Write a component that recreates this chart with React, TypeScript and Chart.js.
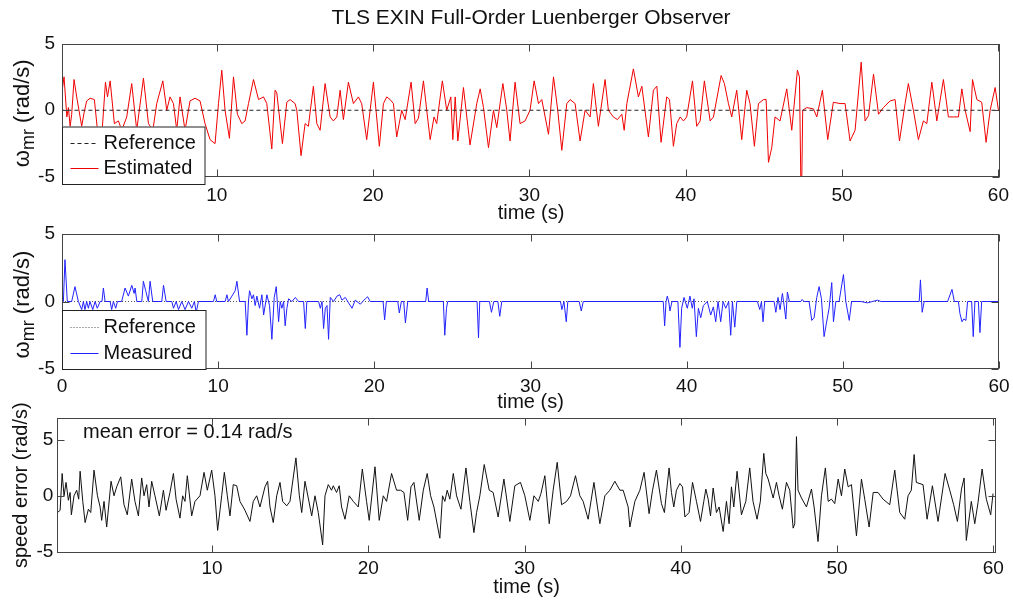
import React, { useEffect, useRef } from "react";
import { Chart, registerables } from "chart.js";

Chart.register(...registerables);

const FONT = "'Liberation Sans', Arial, Helvetica, sans-serif";
const INK = "#111111";
const FRAME = "#444444";
const RED = "#f00000";
const BLUE = "#2222ff";
const BLACK = "#111111";
const TICK = 7;

// ---- tick labels ----
const xTicksTop = [10, 20, 30, 40, 50, 60];
const xTicksMiddle = [0, 10, 20, 30, 40, 50, 60];
const xTicksBottom = [10, 20, 30, 40, 50, 60];
const yTicksOmega = [-5, 0, 5];
const yTicksError = [-5, 0, 5];

// ---- reference (zero speed) ----
const referenceTime = [0, 60.2];
const referenceValue = [0, 0];

// ---- estimated speed [time s, rad/s] ----
const estimated: [number, number][] = [
  [0.09,1.3],[0.23,2.5],[0.41,-0.5],[0.51,0.2],[0.62,-1.2],[0.72,-0.3],[0.87,2.3],[1.04,1.0],[1.36,-1.2],[1.51,-0.2],[1.68,0.7],[1.9,0.9],[2.17,0.8],[2.37,-1.5],[2.64,-2.0],[2.88,2.1],[3.01,1.0],[3.18,2.2],[3.45,-1.0],[3.71,-0.8],[3.92,-1.5],[4.24,-0.5],[4.56,2.0],[4.88,-1.5],[5.31,2.4],[5.63,-1.0],[5.91,-1.5],[6.16,0.5],[6.55,2.2],[6.8,0],[7.01,1.0],[7.23,0.5],[7.44,-1.5],[7.65,1.0],[7.97,-1.5],[8.29,0.7],[8.61,0.9],[8.93,0.7],[9.25,-1.0],[9.57,-2.2],[9.89,-2.5],[10.11,0.5],[10.32,3.0],[10.53,0],[10.81,-2.1],[11.07,2.5],[11.32,-0.3],[11.6,-1.0],[11.81,-0.8],[12.03,0.5],[12.35,2.3],[12.67,0.8],[12.99,1.0],[13.2,0.5],[13.52,-2.9],[13.73,1.5],[13.84,1.3],[14.2,-2.5],[14.48,0.6],[14.69,0.8],[15.01,0.5],[15.12,0],[15.39,-3.4],[15.65,-1.0],[15.86,-1.2],[16.18,1.8],[16.4,-1.0],[16.61,-1.5],[16.93,2.0],[17.25,-0.5],[17.46,-0.8],[17.68,-0.5],[17.89,1.5],[18.1,-0.7],[18.42,2.1],[18.74,0.5],[19.06,1.0],[19.27,0.5],[19.59,-2.2],[20.02,2.1],[20.4,-2.7],[20.66,0.5],[20.87,1.0],[21.09,0.8],[21.3,0.5],[21.51,-2.0],[21.83,0],[22.05,-0.7],[22.43,2.1],[22.69,-1.0],[22.9,-0.6],[23.22,2.2],[23.43,0],[23.65,-2.2],[23.9,-0.5],[24.07,-1.0],[24.43,2.2],[24.71,0],[24.97,1.0],[25.1,-2.2],[25.25,1.0],[25.42,-2.3],[25.78,1.7],[26.2,-2.6],[26.63,0.5],[26.85,1.6],[27.06,0.2],[27.38,-2.8],[27.7,0],[27.91,-1.3],[28.3,2.0],[28.55,0],[28.76,-2.3],[29.08,2.1],[29.4,-1.0],[29.72,-0.8],[30.04,0],[30.3,2.2],[30.58,0.5],[30.79,0.8],[31.22,-1.8],[31.54,2.5],[31.81,0],[32.07,-3.0],[32.39,0.5],[32.6,0.8],[32.92,0.5],[33.24,-2.3],[33.56,0],[33.88,-0.5],[34.09,2.0],[34.41,-1.2],[34.84,2.3],[35.05,0],[35.37,-0.5],[35.63,-0.7],[35.91,-0.3],[36.06,-1.5],[36.23,0.5],[36.65,3.1],[36.97,1.0],[37.19,1.8],[37.61,-2.0],[37.93,1.5],[38.15,1.8],[38.42,-2.4],[38.78,1.0],[38.96,0.8],[39.21,-2.7],[39.42,-1.0],[39.64,-0.5],[39.85,-0.8],[40.06,-0.5],[40.43,2.2],[40.7,-1.2],[40.92,-0.8],[41.19,2.2],[41.56,-0.8],[41.77,-0.5],[42.26,2.6],[42.47,2.0],[42.73,0.5],[42.94,-0.5],[43.26,1.5],[43.58,-2.2],[43.9,1.5],[44.11,0.5],[44.39,-2.7],[44.65,0.5],[44.97,0.8],[45.14,0.8],[45.29,-3.9],[45.5,-2.8],[45.71,-0.5],[46.03,-0.8],[46.46,1.6],[46.78,-1.5],[47.14,3.0],[47.27,2.5],[47.36,-5.3],[47.42,-5.3],[47.48,0],[47.74,0.2],[48.17,0.1],[48.38,-0.5],[48.74,1.5],[49.08,-2.2],[49.44,0.6],[49.87,0.5],[50.19,0.5],[50.51,-2.3],[50.83,-1.5],[51.22,3.6],[51.47,-0.8],[51.69,-0.4],[52.01,2.7],[52.33,-0.3],[52.64,0.2],[53.07,0.7],[53.39,0.8],[53.67,-2.3],[54.03,0.5],[54.24,2.0],[54.56,0],[54.88,-2.2],[55.2,-0.8],[55.42,-1.0],[55.74,2.1],[56.06,-0.8],[56.48,2.3],[56.8,-0.5],[57.12,-0.5],[57.44,-0.5],[57.66,1.6],[57.87,0],[58.19,-1.6],[58.34,2.3],[58.62,0.8],[58.93,0.6],[59.21,-2.4],[59.47,0],[59.79,1.7],[60.0,0]
];

// ---- measured speed [time s, rad/s] ----
const measured: [number, number][] = [
  [0,0],[0.09,0],[0.19,3.1],[0.34,0],[0.62,0],[0.83,1.1],[1.05,0],[1.26,-0.6],[1.37,0],[1.47,-0.6],[1.58,0],[1.69,-0.5],[1.79,0],[1.97,-0.6],[2.12,0],[2.26,-0.5],[2.44,0],[2.56,0],[2.65,1.0],[2.76,0],[3.08,0],[3.18,-0.6],[3.29,0],[3.44,-0.5],[3.55,0],[3.82,0],[4.04,1.0],[4.25,0.4],[4.47,1.2],[4.62,0.6],[4.68,1.0],[4.79,0],[5.11,0],[5.21,1.5],[5.36,0.8],[5.53,0],[5.64,1.5],[5.81,0],[6.39,0],[6.5,1.2],[6.67,0],[7.03,0],[7.14,-0.5],[7.31,0],[7.46,-0.6],[7.67,0],[7.88,-0.6],[8.1,0],[8.31,-0.5],[8.48,0],[8.59,-0.8],[8.74,0],[9.7,0],[9.81,0.5],[9.91,0],[10.45,0],[10.56,0.5],[10.66,0],[10.88,0.4],[11.09,0.8],[11.2,1.5],[11.37,0],[11.73,0],[11.84,-2.5],[11.94,0],[12.01,0.8],[12.16,0.2],[12.26,0.5],[12.37,-0.3],[12.48,0.4],[12.65,-0.5],[12.8,0.5],[12.91,-1.0],[13.12,0.5],[13.29,-0.3],[13.44,-2.8],[13.59,0.3],[13.72,1.1],[13.87,-1.5],[13.97,0],[14.08,-0.5],[14.19,0],[14.29,-1.8],[14.4,-0.5],[14.51,0.2],[14.72,0],[14.94,0.3],[15.15,0],[15.47,0],[15.58,-2.0],[15.68,0],[16.43,0],[16.54,-0.5],[16.65,0],[16.75,-2.0],[16.86,-0.5],[16.97,-0.3],[17.07,-2.8],[17.18,0.3],[17.39,0],[17.61,0.4],[17.78,0.5],[17.93,0.1],[18.14,0.3],[18.35,-0.1],[18.57,-0.5],[18.78,0.1],[19.1,-0.2],[19.42,0.2],[19.57,0.35],[19.74,0],[20.56,0],[20.66,-1.36],[20.77,0],[21.5,0],[21.6,-0.85],[21.73,0],[21.88,0],[21.99,-1.58],[22.14,0],[23.29,0],[23.38,1.0],[23.48,0],[24.42,0],[24.51,-2.5],[24.62,-0.5],[24.7,0],[26.58,0],[26.67,-2.7],[26.75,0],[27.37,0],[27.5,-0.8],[27.65,0],[27.91,0],[28.03,-1.1],[28.16,0],[31.92,0],[32.01,-0.6],[32.14,0],[32.29,-1.5],[32.39,0],[33.12,0],[33.25,-0.7],[33.38,0],[38.5,0],[38.59,-1.8],[38.68,0],[38.76,0.4],[38.85,0],[38.93,-0.7],[39.06,0],[39.44,0],[39.57,-3.4],[39.68,-0.5],[39.83,0.3],[40.04,-0.5],[40.21,0.4],[40.36,-0.5],[40.47,0.2],[40.62,-2.6],[40.75,-0.5],[40.9,-1.2],[41.07,-0.3],[41.32,0],[41.54,-1.0],[41.71,-0.4],[41.86,-1.5],[42.01,0],[42.18,-1.5],[42.33,0],[42.5,-0.5],[42.69,0],[42.82,-2.5],[42.93,0],[43.08,-1.9],[43.21,0],[44.53,0],[44.68,-0.6],[44.79,0],[44.89,-1.5],[45.0,0],[45.6,0],[45.71,-0.8],[45.85,0.3],[45.98,-0.6],[46.13,0.6],[46.24,-0.3],[46.35,-1.3],[46.45,0.7],[46.58,0],[47.31,0],[47.39,0.15],[47.52,0],[47.84,0],[48.01,-1.4],[48.16,-1.2],[48.33,0.3],[48.48,1.1],[48.63,0.2],[48.8,-2.6],[48.95,-1.6],[49.12,-0.5],[49.29,1.4],[49.4,-1.5],[49.55,0],[49.76,0],[50.04,2.0],[50.19,0],[50.41,-1.4],[50.56,0],[51.15,0],[51.58,-0.1],[51.9,0],[52.22,0.1],[52.44,0],[54.89,0],[54.97,1.6],[55.08,-0.8],[55.21,0],[56.71,0],[56.99,0.9],[57.14,0],[57.4,0],[57.5,-0.9],[57.63,-1.5],[57.74,-1.3],[57.88,-1.4],[57.99,0],[58.25,0],[58.35,-2.6],[58.46,0],[58.68,0],[58.78,-2.3],[58.89,0],[60,0]
];

// ---- speed error [time s, rad/s] ----
const speedError: [number, number][] = [
  [0.11,-1.5],[0.28,-1.3],[0.41,2.0],[0.53,0],[0.66,1.2],[0.81,-0.4],[0.92,0.3],[1.0,-1.7],[1.17,0],[1.34,0.5],[1.47,-0.3],[1.56,2.2],[1.73,-0.5],[1.88,-2.4],[2.09,-1.2],[2.24,-1.5],[2.45,2.3],[2.67,0],[2.84,-1.0],[2.94,-2.2],[3.09,-0.5],[3.26,-2.8],[3.54,1.3],[3.73,0],[3.9,0.8],[4.16,1.7],[4.37,-0.8],[4.58,-1.7],[4.86,1.5],[5.07,-0.5],[5.29,-1.8],[5.5,1.6],[5.65,0],[5.82,1.0],[5.97,-1.0],[6.14,1.3],[6.35,0],[6.63,-1.8],[6.89,0.5],[7.06,-1.3],[7.31,0.3],[7.53,2.0],[7.7,-0.3],[7.95,-2.0],[8.12,0],[8.27,-0.5],[8.42,1.8],[8.7,-1.8],[8.91,-0.5],[9.23,0],[9.49,2.1],[9.7,0.5],[9.98,2.3],[10.19,0],[10.36,-3.1],[10.62,0],[10.79,2.1],[10.98,0],[11.15,-1.8],[11.36,1.0],[11.58,0.9],[11.79,-0.5],[12.11,-1.3],[12.43,-2.3],[12.64,-0.5],[12.86,0],[13.07,-1.0],[13.39,0.8],[13.56,1.3],[13.71,-1.0],[13.92,-2.4],[14.14,0],[14.35,1.2],[14.52,-0.5],[14.78,-0.9],[14.99,-0.5],[15.37,3.4],[15.59,0],[15.74,-1.5],[15.95,1.3],[16.16,-0.2],[16.38,-1.8],[16.59,0],[16.8,-1.5],[17.08,-4.4],[17.23,0],[17.44,1.0],[17.65,0.5],[17.76,0.9],[17.97,0.3],[18.14,0.9],[18.29,-1.0],[18.51,-2.1],[18.78,0],[19.04,-0.5],[19.36,-1.0],[19.62,2.4],[19.89,-0.5],[20.06,-2.2],[20.43,2.6],[20.7,-2.2],[20.96,0],[21.17,-0.5],[21.49,2.0],[21.81,0.5],[22.07,0.5],[22.28,0.3],[22.52,-2.2],[22.73,0.8],[22.92,1.2],[23.26,-2.2],[23.52,0.5],[23.77,2.0],[23.99,0],[24.2,-1.0],[24.58,-3.8],[24.75,0],[24.9,-0.5],[25.05,0.5],[25.22,-0.3],[25.44,2.0],[25.65,0],[25.93,-1.2],[26.25,2.5],[26.5,-0.5],[26.76,-3.3],[26.93,-1.5],[27.14,0],[27.42,2.8],[27.74,0.5],[27.99,0.3],[28.31,-1.9],[28.68,1.5],[29.06,-2.3],[29.38,0.9],[29.74,1.2],[30.02,0],[30.34,-2.2],[30.6,0],[30.88,-0.5],[31.05,0.2],[31.3,1.8],[31.58,-2.5],[31.83,0.5],[32.09,3.0],[32.37,-0.8],[32.69,-0.5],[32.94,0],[33.26,1.8],[33.54,0],[33.75,-0.5],[34.07,-2.1],[34.44,1.2],[34.82,-2.5],[35.14,0],[35.46,0.5],[35.78,1.3],[36.1,0.5],[36.31,0.5],[36.63,-1.0],[36.74,-2.8],[37.06,-0.5],[37.38,0.5],[37.65,2.1],[37.97,-1.6],[38.19,0.5],[38.44,2.3],[38.76,-0.7],[38.95,-1.5],[39.08,0.3],[39.25,2.5],[39.4,0.3],[39.55,-1.0],[39.72,0.5],[39.94,1.1],[40.11,0.8],[40.26,-1.9],[40.53,-1.5],[40.75,1.2],[41.0,-0.5],[41.26,-2.3],[41.47,-0.5],[41.6,0.6],[41.75,-0.3],[41.9,-1.8],[42.07,0.7],[42.28,-1.5],[42.45,-1.0],[42.71,-3.2],[42.92,-0.5],[43.09,-2.5],[43.24,0.8],[43.39,-1.0],[43.6,2.2],[43.88,-1.7],[44.16,-0.5],[44.41,2.5],[44.62,-0.5],[44.88,-2.1],[45.09,-0.5],[45.31,3.8],[45.44,2.0],[45.59,1.5],[45.91,-0.2],[46.12,1.2],[46.29,0],[46.5,-1.2],[46.76,1.2],[46.97,0.5],[47.19,-2.9],[47.29,-2.5],[47.4,5.3],[47.5,0.5],[47.72,-0.2],[48.04,-1.0],[48.36,0.6],[48.53,-1.0],[48.78,-4.1],[49.0,0],[49.25,2.5],[49.43,-0.5],[49.64,-0.3],[49.85,-0.7],[50.07,1.5],[50.28,0],[50.49,2.4],[50.71,0.8],[50.92,1.0],[51.24,-3.6],[51.56,1.5],[51.77,-0.3],[52.05,-2.8],[52.31,0.3],[52.62,0.3],[52.94,-0.3],[53.37,-0.8],[53.69,2.3],[54.01,-1.5],[54.33,-2.1],[54.54,0],[54.75,0.5],[54.93,3.7],[55.07,1.2],[55.5,1.0],[55.76,-2.1],[56.1,0.9],[56.46,-2.3],[56.91,2.0],[57.21,0.5],[57.46,-0.8],[57.7,-2.3],[57.96,0.6],[58.13,1.6],[58.27,-4.0],[58.59,-0.5],[58.81,-2.5],[59.02,-0.6],[59.28,2.4],[59.55,-0.3],[59.83,-1.7],[59.98,0.2]
];

const toPoints = (pairs: [number, number][]) => pairs.map(([x, y]) => ({ x, y }));
const refPoints = () => referenceTime.map((x, i) => ({ x, y: referenceValue[i] }));

type LegendItem = { label: string; color: string; dash: number[] };
type PanelSpec = {
  top: number;
  height: number;
  padTop: number;
  padRight: number;
  yWidth: number;
  xHeight: number;
  xMin: number;
  xMax: number;
  yMin: number;
  yMax: number;
  xTicks: number[];
  yTicks: number[];
  xTickPad: number;
  yTickPad: number;
  xTitlePad: number;
  title?: string;
  yTitle?: string;
  omegaTitle?: boolean;
  legend?: { top: number; right: number; bottom: number; rows: number[]; items: LegendItem[] };
  note?: { text: string; x: number; y: number };
  datasets: any[];
};

function buildConfig(p: PanelSpec): any {
  const decor = {
    id: "decor",
    afterDraw(chart: any) {
      const { ctx, chartArea: a, scales } = chart;
      const xs = scales.x;
      const ys = scales.y;
      ctx.save();
      ctx.setLineDash([]);
      ctx.strokeStyle = FRAME;
      ctx.lineWidth = 1;
      const L = Math.round(a.left) + 0.5;
      const R = Math.round(a.right) - 0.5;
      const T = Math.round(a.top) + 0.5;
      const B = Math.round(a.bottom) - 0.5;
      ctx.strokeRect(L, T, R - L, B - T);
      ctx.beginPath();
      for (const v of p.xTicks) {
        const px = Math.round(xs.getPixelForValue(v)) + 0.5;
        ctx.moveTo(px, B);
        ctx.lineTo(px, B - TICK);
        ctx.moveTo(px, T);
        ctx.lineTo(px, T + TICK);
      }
      for (const v of p.yTicks) {
        const py = Math.round(ys.getPixelForValue(v)) + 0.5;
        ctx.moveTo(L, py);
        ctx.lineTo(L + TICK, py);
        ctx.moveTo(R, py);
        ctx.lineTo(R - TICK, py);
      }
      ctx.stroke();

      if (p.legend) {
        const g = p.legend;
        ctx.fillStyle = "#ffffff";
        ctx.fillRect(L, g.top, g.right - L, g.bottom - g.top);
        ctx.strokeStyle = "#222222";
        ctx.strokeRect(L, g.top + 0.5, g.right - L, g.bottom - g.top);
        g.items.forEach((it, i) => {
          const y = Math.round(g.rows[i]) + 0.5;
          ctx.strokeStyle = it.color;
          ctx.lineWidth = 1;
          ctx.setLineDash(it.dash);
          ctx.beginPath();
          ctx.moveTo(L + 8, y);
          ctx.lineTo(L + 36, y);
          ctx.stroke();
          ctx.setLineDash([]);
          ctx.fillStyle = INK;
          ctx.font = `20px ${FONT}`;
          ctx.textAlign = "left";
          ctx.textBaseline = "middle";
          ctx.fillText(it.label, L + 41, g.rows[i]);
        });
      }

      if (p.note) {
        ctx.fillStyle = INK;
        ctx.font = `20px ${FONT}`;
        ctx.textAlign = "left";
        ctx.textBaseline = "middle";
        ctx.fillText(p.note.text, p.note.x, p.note.y);
      }

      if (p.omegaTitle) {
        const cy = (a.top + a.bottom) / 2 + 3;
        ctx.translate(29, cy);
        ctx.rotate(-Math.PI / 2);
        ctx.fillStyle = INK;
        ctx.textAlign = "left";
        ctx.textBaseline = "alphabetic";
        const main = `22px ${FONT}`;
        const sub = `18px ${FONT}`;
        ctx.font = main;
        const w1 = ctx.measureText("\u03c9").width;
        const w3 = ctx.measureText(" (rad/s)").width;
        ctx.font = sub;
        const w2 = ctx.measureText("mr").width;
        const x0 = -(w1 + w2 + w3) / 2;
        ctx.font = main;
        ctx.fillText("\u03c9", x0, 0);
        ctx.font = sub;
        ctx.fillText("mr", x0 + w1, 5);
        ctx.font = main;
        ctx.fillText(" (rad/s)", x0 + w1 + w2, 0);
      }
      ctx.restore();
    },
  };

  return {
    type: "line",
    data: { datasets: p.datasets },
    plugins: [decor],
    options: {
      responsive: false,
      maintainAspectRatio: false,
      animation: false,
      devicePixelRatio: 1,
      layout: { padding: { left: 0, right: p.padRight, top: p.padTop, bottom: 0 } },
      elements: { point: { radius: 0 }, line: { tension: 0, borderWidth: 1 } },
      plugins: {
        legend: { display: false },
        tooltip: { enabled: false },
        title: p.title
          ? {
              display: true,
              text: p.title,
              color: INK,
              fullSize: false,
              font: { family: FONT, size: 21, weight: "normal" },
              padding: { top: 6, bottom: 12.3 },
            }
          : { display: false },
      },
      scales: {
        x: {
          type: "linear",
          min: p.xMin,
          max: p.xMax,
          grid: { display: false, drawTicks: false },
          border: { display: false },
          ticks: {
            color: INK,
            font: { family: FONT, size: 19 },
            padding: p.xTickPad,
            autoSkip: false,
            maxRotation: 0,
            callback: (v: any) => String(v),
          },
          title: {
            display: true,
            text: "time (s)",
            color: INK,
            font: { family: FONT, size: 20 },
            padding: { top: 0, bottom: p.xTitlePad },
          },
          afterBuildTicks: (s: any) => {
            s.ticks = p.xTicks.map((value) => ({ value }));
          },
          afterFit: (s: any) => {
            s.height = p.xHeight;
            s.paddingLeft = 0;
            s.paddingRight = 0;
            s.paddingTop = 0;
            s.paddingBottom = 0;
          },
        },
        y: {
          type: "linear",
          min: p.yMin,
          max: p.yMax,
          grid: { display: false, drawTicks: false },
          border: { display: false },
          ticks: {
            color: INK,
            font: { family: FONT, size: 19 },
            padding: p.yTickPad,
            autoSkip: false,
            callback: (v: any) => String(v),
          },
          title: p.yTitle
            ? {
                display: true,
                text: p.yTitle,
                color: INK,
                font: { family: FONT, size: 20 },
                padding: { top: 9, bottom: 0 },
              }
            : { display: false },
          afterBuildTicks: (s: any) => {
            s.ticks = p.yTicks.map((value) => ({ value }));
          },
          afterFit: (s: any) => {
            s.width = p.yWidth;
            s.paddingLeft = 0;
            s.paddingRight = 0;
            s.paddingTop = 0;
            s.paddingBottom = 0;
          },
        },
      },
    },
  };
}

const panels: PanelSpec[] = [
  {
    top: 0,
    height: 232,
    padTop: 0,
    padRight: 13,
    yWidth: 62,
    xHeight: 55,
    xMin: 0.1,
    xMax: 60.1,
    yMin: -5,
    yMax: 5,
    xTicks: xTicksTop,
    yTicks: yTicksOmega,
    xTickPad: 7,
    yTickPad: 7,
    xTitlePad: 7,
    title: "TLS EXIN Full-Order Luenberger Observer",
    omegaTitle: true,
    legend: {
      top: 126.5,
      right: 205,
      bottom: 184,
      rows: [143, 168],
      items: [
        { label: "Reference", color: "#222222", dash: [4, 3] },
        { label: "Estimated", color: RED, dash: [] },
      ],
    },
    datasets: [
      { label: "Reference", data: refPoints(), borderColor: "#222222", borderDash: [4, 3], borderWidth: 1 },
      { label: "Estimated", data: toPoints(estimated), borderColor: RED, borderWidth: 1 },
    ],
  },
  {
    top: 212,
    height: 210,
    padTop: 22,
    padRight: 14,
    yWidth: 62,
    xHeight: 53,
    xMin: 0,
    xMax: 60,
    yMin: -5,
    yMax: 5,
    xTicks: xTicksMiddle,
    yTicks: yTicksOmega,
    xTickPad: 6,
    yTickPad: 7,
    xTitlePad: 8,
    omegaTitle: true,
    legend: {
      top: 98,
      right: 206,
      bottom: 157,
      rows: [115, 141],
      items: [
        { label: "Reference", color: "#555555", dash: [1, 2] },
        { label: "Measured", color: BLUE, dash: [] },
      ],
    },
    datasets: [
      { label: "Measured", data: toPoints(measured), borderColor: BLUE, borderWidth: 1 },
      { label: "Reference", data: refPoints(), borderColor: "#555555", borderDash: [1, 2], borderWidth: 1 },
    ],
  },
  {
    top: 400,
    height: 204,
    padTop: 17.7,
    padRight: 17.3,
    yWidth: 57.3,
    xHeight: 51.3,
    xMin: 0.1,
    xMax: 60.15,
    yMin: -5.1,
    yMax: 7,
    xTicks: xTicksBottom,
    yTicks: yTicksError,
    xTickPad: 5,
    yTickPad: 4,
    xTitlePad: 5,
    yTitle: "speed error (rad/s)",
    note: { text: "mean error = 0.14 rad/s", x: 83, y: 32 },
    datasets: [{ label: "Speed error", data: toPoints(speedError), borderColor: BLACK, borderWidth: 1 }],
  },
];

function Panel({ spec }: { spec: PanelSpec }) {
  const ref = useRef<HTMLCanvasElement>(null);
  useEffect(() => {
    const chart = new Chart(ref.current as HTMLCanvasElement, buildConfig(spec));
    return () => chart.destroy();
  }, [spec]);
  return (
    <canvas
      ref={ref}
      width={1013}
      height={spec.height}
      style={{ position: "absolute", left: 0, top: spec.top, width: 1013, height: spec.height }}
    />
  );
}

export default function App() {
  return (
    <div style={{ position: "absolute", left: 0, top: 0, width: 1013, height: 604, background: "#ffffff" }}>
      {panels.map((p, i) => (
        <Panel key={i} spec={p} />
      ))}
    </div>
  );
}
